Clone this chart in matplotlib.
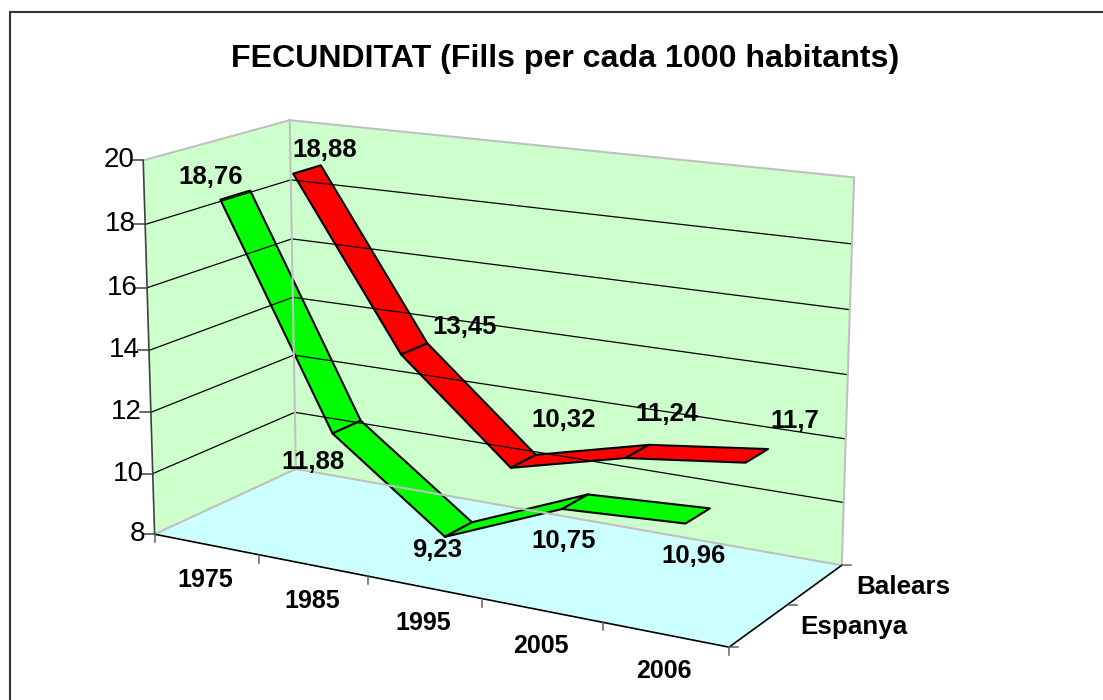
import numpy as np
import matplotlib
matplotlib.use('Agg')
import matplotlib.pyplot as plt

plt.rcParams['font.family'] = ['Liberation Sans', 'DejaVu Sans']

# dades
years = ['1975', '1985', '1995', '2005', '2006']
espanya = [18.76, 11.88, 9.23, 10.75, 10.96]
balears = [18.88, 13.45, 10.32, 11.24, 11.7]
series_names = ['Espanya', 'Balears']
yticks = [8, 10, 12, 14, 16, 18, 20]
ymin, ymax = 8, 20

# calibracio de la perspectiva: (x, fons, valor) -> pixel
calib = [
    ((0, 0, 0), (155, 532)), ((0, 0, 1), (143, 160)),
    ((0, 1, 0), (295, 470)), ((0, 1, 1), (290, 120)),
    ((1, 1, 0), (840, 564)), ((1, 1, 1), (854, 178)),
    ((1, 0, 0), (727, 647)),
    ((0.2, 0, 0), (260, 555)), ((0.4, 0, 0), (368, 578)),
    ((0.6, 0, 0), (482, 600)), ((0.8, 0, 0), (601, 622)),
    ((1, 0.5, 0), (793, 604)),
]
A = []
b = []
for (x, z, v), (px, py) in calib:
    A.append([x, z, v, 1, 0, 0, 0, 0, -px*x, -px*z, -px*v])
    b.append(px)
    A.append([0, 0, 0, 0, x, z, v, 1, -py*x, -py*z, -py*v])
    b.append(py)
h = np.linalg.lstsq(np.array(A, float), np.array(b, float), rcond=None)[0]
P = np.append(h, 1).reshape(3, 4)


def proj(x, z, val):
    v = (val - ymin) / (ymax - ymin)
    q = P @ np.array([x, z, v, 1.0])
    return q[0] / q[2], q[1] / q[2]


fig = plt.figure(figsize=(11.03, 7), dpi=100)
ax = fig.add_axes([0, 0, 1, 1])
ax.set_xlim(0, 1103)
ax.set_ylim(700, 0)
ax.axis('off')

# marc exterior (la imatge talla el costat dret i el de baix)
ax.plot([10, 10, 1103], [700, 12, 12], color='#333333', lw=1.5, solid_joinstyle='miter')

ax.text(565, 58.5, 'FECUNDITAT (Fills per cada 1000 habitants)', fontsize=23.1,
        fontweight='bold', ha='center', va='center')

# parets i terra
grey = '#c0c0c0'
left_wall = [proj(0, 0, ymin), proj(0, 1, ymin), proj(0, 1, ymax), proj(0, 0, ymax)]
back_wall = [proj(0, 1, ymin), proj(1, 1, ymin), proj(1, 1, ymax), proj(0, 1, ymax)]
floor = [proj(0, 0, ymin), proj(1, 0, ymin), proj(1, 1, ymin), proj(0, 1, ymin)]
ax.fill(*zip(*left_wall), color='#ccffcc', lw=0)
ax.fill(*zip(*back_wall), color='#ccffcc', lw=0)
ax.fill(*zip(*floor), color='#ccffff', lw=0)

# linies de graella
for t in yticks[1:-1]:
    pts = [proj(0, 0, t), proj(0, 1, t), proj(1, 1, t)]
    ax.plot(*zip(*pts), color='black', lw=0.9)

# vores grises
for p, q in [((0, 0, ymax), (0, 1, ymax)), ((0, 1, ymax), (1, 1, ymax)),
             ((0, 1, ymin), (0, 1, ymax)), ((1, 1, ymin), (1, 1, ymax)),
             ((0, 0, ymin), (0, 1, ymin)), ((0, 1, ymin), (1, 1, ymin))]:
    ax.plot(*zip(proj(*p), proj(*q)), color=grey, lw=1.5)

# eixos
ax.plot(*zip(proj(0, 0, ymin), proj(0, 0, ymax)), color='#404040', lw=1.2)
ax.plot(*zip(proj(0, 0, ymin), proj(1, 0, ymin)), color='black', lw=1.2)
ax.plot(*zip(proj(1, 0, ymin), proj(1, 1, ymin)), color='black', lw=1.2)

for t in yticks:
    px, py = proj(0, 0, t)
    ax.plot([px - 11, px], [py, py], color='#404040', lw=1.1)
    ax.text(px - 9, py, str(t), fontsize=20, ha='right', va='center')

n = len(years)
for i in range(n + 1):
    px, py = proj(i / n, 0, ymin)
    ax.plot([px, px], [py, py + 8], color='#606060', lw=1.1)
for i, name in enumerate(years):
    px, py = proj((i + 0.5) / n, 0, ymin)
    ax.text(px - 1, py + 36, name, fontsize=18, fontweight='bold', ha='center', va='center')

for k in range(3):
    px, py = proj(1, k / 2, ymin)
    ax.plot([px, px + 9], [py, py], color='#606060', lw=1.1)
for k, name in enumerate(series_names):
    px, py = proj(1, (k + 0.5) / 2, ymin)
    ax.text(px + 41, py + 2, name, fontsize=18.7, fontweight='bold', ha='left', va='center')


# cintes 3D
def ribbon(values, z, color):
    for i in range(n - 1):
        x0, x1 = (i + 0.5) / n, (i + 1.5) / n
        pts = [proj(x0, z - 0.1, values[i]), proj(x1, z - 0.1, values[i + 1]),
               proj(x1, z + 0.1, values[i + 1]), proj(x0, z + 0.1, values[i])]
        ax.fill(*zip(*pts), facecolor=color, edgecolor='black', lw=1.5, joinstyle='round')


ribbon(balears, 0.75, '#ff0000')
ribbon(espanya, 0.25, '#00ff00')

# etiquetes de dades
offs_esp = [(-25, -18), (-34, 35), (-21, 21), (-12, 39), (-4, 40)]
offs_bal = [(18, -19), (50, -22), (40, -41), (30, -37), (38, -35)]
for values, z, offs in [(espanya, 0.25, offs_esp), (balears, 0.75, offs_bal)]:
    for i, val in enumerate(values):
        px, py = proj((i + 0.5) / n, z, val)
        ax.text(px + offs[i][0], py + offs[i][1], str(val).replace('.', ','),
                fontsize=18.5, fontweight='bold', ha='center', va='center')

fig.savefig('out.png', dpi=100)
